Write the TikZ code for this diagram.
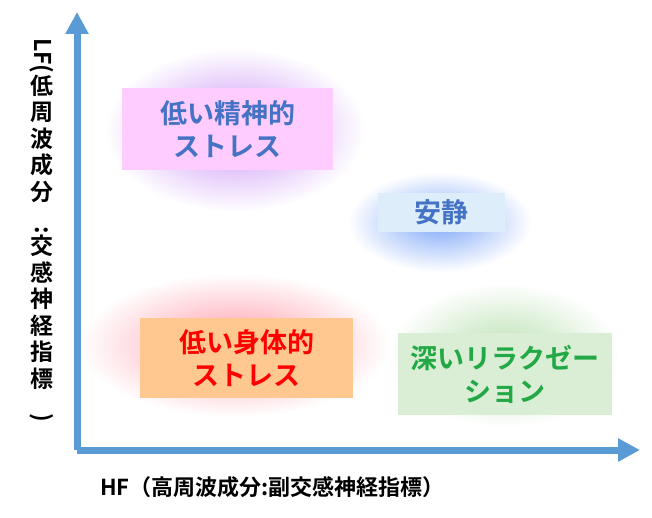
\documentclass[tikz,border=0pt]{standalone}
\usepackage{fontspec}
\newfontfamily\jpb{Noto Sans CJK JP Bold}
\usetikzlibrary{arrows.meta}
\definecolor{axisblue}{HTML}{5B9BD5}
\definecolor{cpink}{HTML}{FFCCFF}
\definecolor{cblue}{HTML}{DDEEFA}
\definecolor{corange}{HTML}{FFC890}
\definecolor{cgreen}{HTML}{D9EED5}
\definecolor{tgreen}{HTML}{22A845}
\definecolor{tblue}{HTML}{4472C4}
\definecolor{gpurple}{HTML}{C890F5}
\definecolor{gblue}{HTML}{80A8F8}
\definecolor{gred}{HTML}{FF9AA8}
\definecolor{ggreen}{HTML}{B8E0B0}
\tikzset{
  glow/.style={shading=radial, inner color=#1, outer color=white, draw=none},
  lbox/.style={fill=#1, draw=none, align=center, font=\jpb\fontsize{27}{33}\selectfont, inner sep=0pt},
  ax/.style={draw=axisblue, line width=7pt, -{Triangle[length=22pt,width=22pt]}}
}
\begin{document}
\begin{tikzpicture}[x=1pt,y=-1pt]
\useasboundingbox (0,0) rectangle (652,518);
\fill[white] (0,0) rectangle (652,518);
% glows
\shade[glow=gpurple] (235,130) ellipse [x radius=130, y radius=82];
\shade[glow=gblue] (440,222) ellipse [x radius=92, y radius=50];
\shade[glow=gred] (235,345) ellipse [x radius=155, y radius=72];
\shade[glow=ggreen] (505,355) ellipse [x radius=115, y radius=72];
% boxes
\node[lbox=cpink, minimum width=211pt, minimum height=82pt, text=tblue] (mental) at (227.5,129) {低い精神的\\ストレス};
\node[lbox=cblue, minimum width=127pt, minimum height=39pt, text=tblue] (calm) at (441.5,212.5) {安静};
\node[lbox=corange, minimum width=213pt, minimum height=80pt, text=red] (physical) at (246.5,358) {低い身体的\\ストレス};
\node[lbox=cgreen, minimum width=214pt, minimum height=82pt, text=tgreen] (relax) at (505,374) {深いリラクゼー\\ション};
% axes
\coordinate (o) at (77,450);
\coordinate (xe) at (640,450);
\coordinate (ye) at (77,12);
\draw[ax] (o) -- (xe);
\draw[ax] (o) -- (ye);
\node[font=\jpb\fontsize{22}{26}\selectfont, anchor=west, inner sep=0pt] (hf) at (100,487) {HF（高周波成分:副交感神経指標）};
\node[font=\jpb\fontsize{23}{26.5}\selectfont, align=center, inner sep=0pt, anchor=north] (lf) at (42,38)
 {\rotatebox{-90}{LF(}\\低\\周\\波\\成\\分\\\rotatebox{-90}{:}\\交\\感\\神\\経\\指\\標\\\rotatebox{-90}{)}};
\end{tikzpicture}
\end{document}
